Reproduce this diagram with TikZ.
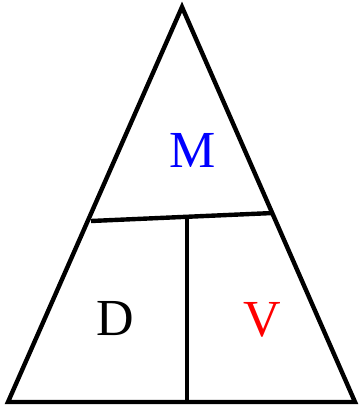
\documentclass[tikz,border=0pt]{standalone}
\usepackage{fontspec}
\setmainfont{Liberation Serif}
\begin{document}
\begin{tikzpicture}[x=1pt,y=-1pt,
  edge/.style={line width=4.4pt, line join=miter},
  lbl/.style={font=\fontsize{52}{52}\selectfont, inner sep=0pt}]
\useasboundingbox (0,0) rectangle (359,407);
\coordinate (A) at (182,7);
\coordinate (B) at (8,402);
\coordinate (C) at (355,402);
\coordinate (L) at (91,221);
\coordinate (R) at (273,213);
\coordinate (T) at (187,217);
\coordinate (S) at (187,402);
\draw[edge] (A) -- (B) -- (C) -- cycle;
\draw[edge] (L) -- (R);
\draw[edge] (T) -- (S);
\node[lbl, text=blue] (m) at (193,150) {M};
\node[lbl] (d) at (115,319) {D};
\node[lbl, text=red] (v) at (262,320) {V};
\end{tikzpicture}
\end{document}
